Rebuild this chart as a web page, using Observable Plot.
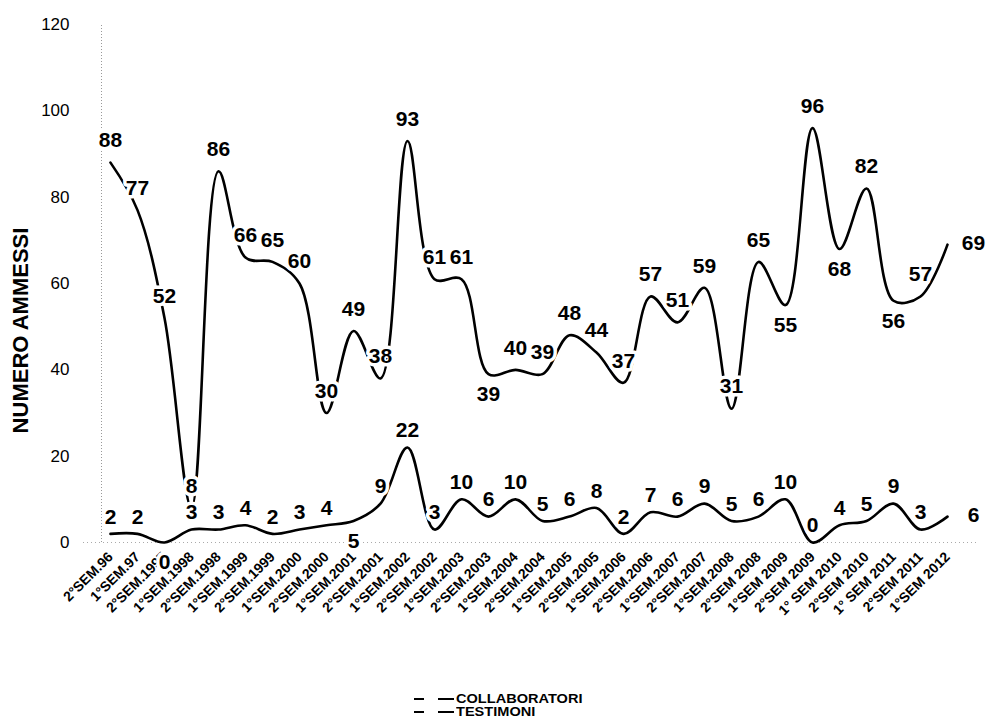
<!DOCTYPE html>
<html>
<head>
<meta charset="utf-8">
<script src="https://cdn.jsdelivr.net/npm/d3@7"></script>
<script src="https://cdn.jsdelivr.net/npm/@observablehq/plot@0.6"></script>
<style>
  body { margin: 0; background: #fff; font-family: "Liberation Sans", Arial, sans-serif; }
  #wrap { position: relative; width: 1006px; height: 722px; }
  #legend { position: absolute; left: 414px; top: 692px; font-weight: bold; font-size: 13px; line-height: 13px; color: #000; }
  .row { display: flex; align-items: center; height: 13px; }
  .d1 { display: inline-block; width: 10px; height: 0; border-top: 2px solid #000; margin-right: 14px; }
  .d2 { display: inline-block; width: 16px; height: 0; border-top: 2px solid #000; margin-right: 2px; }
  .lt { display: inline-block; transform: scaleX(1.12); transform-origin: left center; }
</style>
</head>
<body>
<div id="wrap"><div id="chart"></div>
<div id="legend">
  <div class="row"><span class="d1"></span><span class="d2"></span><span class="lt">COLLABORATORI</span></div>
  <div class="row"><span class="d1"></span><span class="d2"></span><span class="lt">TESTIMONI</span></div>
</div></div>
<script>
const labels = ["2°SEM.96","1°SEM.97","2°SEM.1997","1°SEM.1998","2°SEM.1998","1°SEM.1999","2°SEM.1999","1°SEM.2000","2°SEM.2000","1°SEM.2001","2°SEM.2001","1°SEM.2002","2°SEM.2002","1°SEM.2003","2°SEM.2003","1°SEM.2004","2°SEM.2004","1°SEM.2005","2°SEM.2005","1°SEM.2006","2°SEM.2006","1°SEM.2007","2°SEM.2007","1°SEM.2008","2°SEM 2008","1°SEM 2009","2°SEM 2009","1° SEM 2010","2°SEM 2010","1° SEM 2011","2°SEM 2011","1°SEM 2012"];
const collaboratori = [88,77,52,8,86,66,65,60,30,49,38,93,61,61,39,40,39,48,44,37,57,51,59,31,65,55,96,68,82,56,57,69];
const testimoni = [2,2,0,3,3,4,2,3,4,5,9,22,3,10,6,10,5,6,8,2,7,6,9,5,6,10,0,4,5,9,3,6];
const yTicks = [0,20,40,60,80,100,120];
// label placement (which point labels sit below their point, as in the original)
const collabBelow = [14, 25, 27, 29];
const testimBelow = [2, 9];

function rows(arr, name, below) {
  const n = arr.length;
  return arr.map((v, i) => ({
    label: labels[i], value: v, series: name, i,
    below: below.includes(i),
    last: i === n - 1
  }));
}
const c = rows(collaboratori, "COLLABORATORI", collabBelow);
const t = rows(testimoni, "TESTIMONI", testimBelow);
const all = c.concat(t);

const font = "Liberation Sans, Arial, sans-serif";
const txt = {x: "label", y: "value", text: d => String(d.value), fontSize: 21, fontWeight: "bold", fill: "black", stroke: "white", strokeWidth: 7, fontFamily: font};

const chart = Plot.plot({
  width: 1006,
  height: 690,
  marginLeft: 83,
  marginRight: 30,
  marginTop: 24,
  marginBottom: 148,
  style: {fontFamily: font, background: "white", color: "black"},
  x: {type: "point", domain: labels, range: [92, 965]},
  y: {domain: [0, 120], range: [542, 24]},
  marks: [
    Plot.ruleX([labels[0]], {y1: 0, y2: 120, dx: -9, stroke: "#999", strokeDasharray: "1,2"}),
    Plot.ruleY([0], {stroke: "#aaa", strokeDasharray: "1,3"}),
    Plot.axisY({ticks: yTicks, tickSize: 0, tickPadding: 14, fontSize: 17, label: null}),
    Plot.text(["NUMERO AMMESSI"], {frameAnchor: "left", textAnchor: "middle", dx: -63, dy: 47, rotate: -90, fontSize: 22, fontWeight: "bold", text: d => d}),
    Plot.axisX({tickSize: 0, tickRotate: -45, tickPadding: 12, fontSize: 14, fontWeight: "bold", label: null}),
    Plot.line(c, {x: "label", y: "value", curve: "catmull-rom", stroke: "black", strokeWidth: 2.6}),
    Plot.line(t, {x: "label", y: "value", curve: "catmull-rom", stroke: "black", strokeWidth: 2.6}),
    Plot.text(c.filter(d => !d.below && !d.last), {...txt, dy: -22}),
    Plot.text(t.filter(d => !d.below && !d.last), {...txt, dy: -17}),
    Plot.text(all.filter(d => d.below), {...txt, dy: 20}),
    Plot.text(all.filter(d => d.last), {...txt, dx: 26, dy: -1})
  ]
});
document.getElementById("chart").appendChild(chart);
</script>
</body>
</html>
